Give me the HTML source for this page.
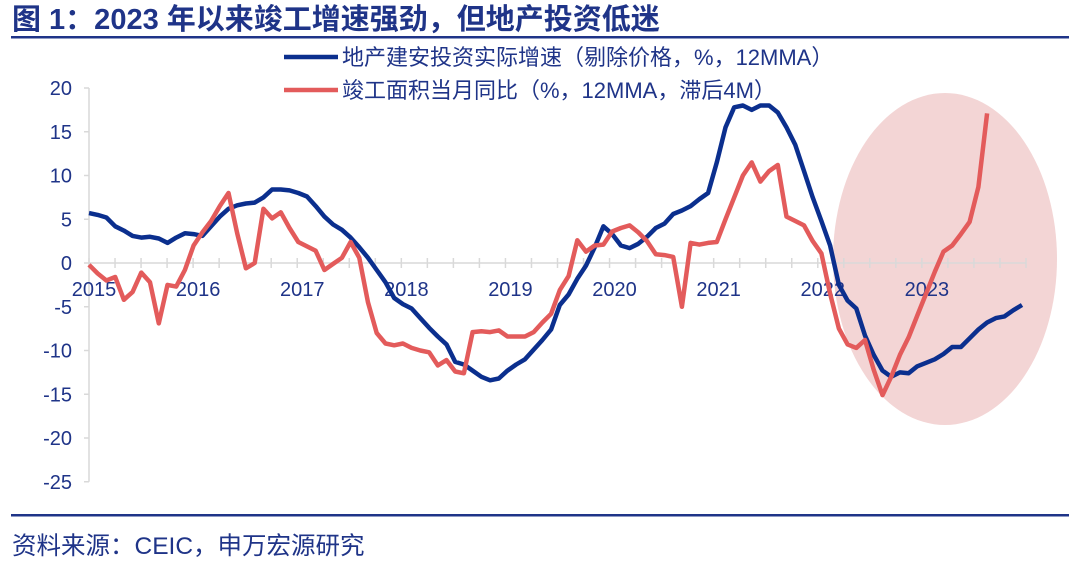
<!DOCTYPE html>
<html><head><meta charset="utf-8"><style>
body{margin:0;background:#fff;width:1080px;height:562px;overflow:hidden;font-family:"Liberation Sans","Noto Sans CJK SC",sans-serif;}
svg text{font-family:"Liberation Sans","Noto Sans CJK SC",sans-serif;}
</style></head><body>
<svg id="chart" width="1080" height="562" viewBox="0 0 1080 562">
<text x="12" y="29" font-size="29" font-weight="bold" fill="#1f3488">图 1：2023 年以来竣工增速强劲，但地产投资低迷</text>
<rect x="11" y="36" width="1058" height="2.5" fill="#1f3488"/>
<ellipse cx="945" cy="259" rx="112" ry="166" fill="#f3d5d5"/>
<g id="axes"></g>
<g id="series"></g>
<g>
<line x1="284" y1="57" x2="338" y2="57" stroke="#0b2f8e" stroke-width="4.5"/>
<text x="342" y="65" font-size="22" fill="#1f3488">地产建安投资实际增速（剔除价格，%，12MMA）</text>
<line x1="284" y1="90" x2="338" y2="90" stroke="#e35b5b" stroke-width="4.5"/>
<text x="342" y="98" font-size="22" fill="#1f3488">竣工面积当月同比（%，12MMA，滞后4M）</text>
</g>
<rect x="11" y="514" width="1058" height="2.5" fill="#1f3488"/>
<text x="12" y="554" font-size="24.5" fill="#1f3488">资料来源：CEIC，申万宏源研究</text>
</svg>
<script>
const yTicks=[20,15,10,5,0,-5,-10,-15,-20,-25];
const yearLabels=["2015","2016","2017","2018","2019","2020","2021","2022","2023"];
const investment=[5.7,5.5,5.2,4.2,3.7,3.1,2.9,3.0,2.8,2.3,2.9,3.4,3.3,3.1,4.2,5.3,6.2,6.6,6.8,6.9,7.5,8.4,8.4,8.3,8.0,7.6,6.5,5.3,4.4,3.8,2.9,1.8,0.6,-0.8,-2.2,-4.0,-4.7,-5.2,-6.3,-7.4,-8.4,-9.3,-11.3,-11.6,-12.3,-13.0,-13.4,-13.2,-12.3,-11.6,-11.0,-9.9,-8.8,-7.6,-4.8,-3.6,-1.8,-0.3,1.8,4.2,3.3,2.0,1.7,2.2,3.0,4.0,4.5,5.6,6.0,6.5,7.3,8.0,11.5,15.5,17.8,18.0,17.5,18.0,18.0,17.2,15.5,13.5,10.5,7.5,4.8,2.0,-2.5,-4.3,-5.2,-8.3,-10.5,-12.3,-13.0,-12.5,-12.6,-11.8,-11.4,-11.0,-10.4,-9.6,-9.6,-8.6,-7.6,-6.8,-6.3,-6.1,-5.4,-4.8];
const completion=[-0.2,-1.2,-2.0,-1.6,-4.2,-3.3,-1.1,-2.2,-6.9,-2.5,-2.7,-0.8,2.0,3.5,4.8,6.5,8.0,3.4,-0.6,0.0,6.2,5.1,5.8,4.0,2.4,1.9,1.4,-0.8,-0.1,0.6,2.4,0.6,-4.5,-8.0,-9.2,-9.4,-9.2,-9.7,-10.0,-10.2,-11.7,-11.1,-12.4,-12.6,-7.9,-7.8,-7.9,-7.7,-8.4,-8.4,-8.4,-7.9,-6.8,-5.8,-3.1,-1.5,2.6,1.3,2.0,2.1,3.6,4.0,4.3,3.5,2.5,1.0,0.9,0.7,-5.0,2.3,2.1,2.3,2.4,5.0,7.5,10.0,11.5,9.3,10.5,11.2,5.3,4.8,4.3,2.5,1.1,-3.5,-7.5,-9.3,-9.7,-8.8,-12.2,-15.1,-13.0,-10.5,-8.5,-6.0,-3.5,-1.0,1.3,2.0,3.3,4.7,8.7,17.1];
const NS="http://www.w3.org/2000/svg";
const X0=89,AXEND=1026,DX=(AXEND-X0)/108;
function x(i){return X0+i*DX*1.005;}
function y(v){return 263-v*8.75;}
function mk(t,a,p){const e=document.createElementNS(NS,t);for(const k in a)e.setAttribute(k,a[k]);p.appendChild(e);return e;}
const ax=document.getElementById('axes');
const yl=mk('line',{x1:X0,y1:y(20),x2:X0,y2:y(-25),stroke:'#d9d9d9','stroke-width':1.5},ax);


yTicks.forEach(v=>{
  const tk=mk('line',{x1:X0-5,y1:y(v),x2:X0,y2:y(v),stroke:'#d9d9d9','stroke-width':1.5},ax);
  
  
  const t=mk('text',{x:72,y:y(v)+7,'font-size':20,'text-anchor':'end',fill:'#1f3488'},ax);
  t.textContent=v;
  
  
});
const xl=mk('line',{x1:X0,y1:y(0),x2:AXEND,y2:y(0),stroke:'#d9d9d9','stroke-width':1.5},ax);


for(let q=0;q<=36;q++){
  const xx=X0+q*(AXEND-X0)/36;
  const tk=mk('line',{x1:xx,y1:y(0)-5,x2:xx,y2:y(0)+5,stroke:'#d9d9d9','stroke-width':1.5},ax);
  
  
}
yearLabels.forEach((l,k)=>{
  const t=mk('text',{x:X0+k*12*DX+5,y:296,'font-size':20,'text-anchor':'middle',fill:'#1f3488'},ax);
  t.textContent=l;
  
  
});
const sg=document.getElementById('series');
function line(arr,color,name){
  const p=mk('polyline',{points:arr.map((v,i)=>x(i).toFixed(1)+','+y(v).toFixed(1)).join(' '),fill:'none',stroke:color,'stroke-width':4.5,'stroke-linejoin':'round'},sg);
  
  
}
line(investment,'#0b2f8e','investment-line');
line(completion,'#e35b5b','completion-line');
</script>
</body></html>
